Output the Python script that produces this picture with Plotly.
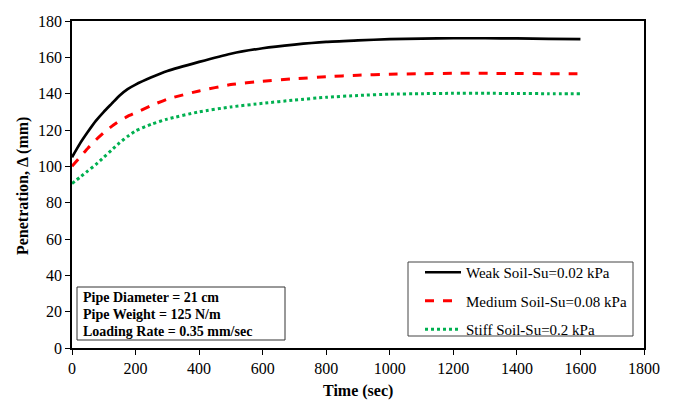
import plotly.graph_objects as go

time_s = [0, 25, 50, 75, 100, 125, 150, 175, 200, 250, 300, 400, 500, 600, 700, 800, 900, 1000, 1100, 1200, 1300, 1400, 1500, 1600]
weak = [105, 112.5, 119, 125, 130, 134.5, 139, 142.5, 145, 149, 152.5, 157.5, 162, 165, 167, 168.5, 169.3, 170, 170.3, 170.5, 170.5, 170.4, 170.2, 170]
medium = [100, 105, 110, 114.5, 118.5, 122, 125, 127.5, 129.5, 133.5, 137, 141.5, 145, 146.8, 148.2, 149.3, 150.2, 150.7, 151, 151.2, 151.2, 151.1, 151, 151]
stiff = [90.5, 94, 97.5, 101, 105, 109, 113, 116.5, 119.5, 123.2, 126, 130, 132.7, 134.7, 136.5, 138, 139, 139.7, 140, 140.2, 140.2, 140.1, 140, 140]

series_names = ["Weak Soil-Su=0.02 kPa", "Medium Soil-Su=0.08 kPa", "Stiff Soil-Su=0.2 kPa"]
x_ticks = list(range(0, 1801, 200))
y_ticks = list(range(0, 181, 20))
info_lines = ["Pipe Diameter = 21 cm", "Pipe Weight = 125 N/m", "Loading Rate = 0.35 mm/sec"]
x_title = "Time (sec)"
y_title = "Penetration, Δ (mm)"

font_family = "Liberation Serif"
L, R, T, B = 72, 31, 21, 55
W, H = 675, 403
pw, ph = W - L - R, H - T - B


def px_x(x):
    return (x - L) / pw


def px_y(y):
    return (H - B - y) / ph


fig = go.Figure()
fig.add_trace(go.Scatter(x=time_s, y=weak, mode="lines", name=series_names[0], legendgroup="a",
                         line=dict(color="black", width=2.7, shape="spline", smoothing=0.5)))
fig.add_trace(go.Scatter(x=time_s, y=medium, mode="lines", name=series_names[1], legendgroup="b",
                         line=dict(color="#ff0000", width=3, dash="dash", shape="spline", smoothing=0.5)))
fig.add_trace(go.Scatter(x=time_s, y=stiff, mode="lines", name=series_names[2], legendgroup="c",
                         line=dict(color="#00b050", width=3, dash="dot", shape="spline", smoothing=0.5)))

fig.update_layout(
    width=W, height=H,
    margin=dict(l=L, r=R, t=T, b=B, autoexpand=False),
    paper_bgcolor="white", plot_bgcolor="white",
    font=dict(family=font_family, size=16, color="black"),
    showlegend=True,
    legend=dict(x=px_x(420), y=px_y(256), xanchor="left", yanchor="top",
                borderwidth=0, bgcolor="rgba(0,0,0,0)",
                font=dict(family=font_family, size=15, color="black"),
                itemwidth=36, tracegroupgap=6),
    xaxis=dict(range=[0, 1800], tickvals=x_ticks, ticktext=[str(v) for v in x_ticks],
               showgrid=False, zeroline=False, showline=True, linecolor="black", linewidth=1.5,
               mirror=True, ticks="outside", ticklen=5, tickcolor="black", automargin=False,
               tickfont=dict(family=font_family, size=16)),
    yaxis=dict(range=[0, 180], tickvals=y_ticks, ticktext=[str(v) for v in y_ticks],
               showgrid=False, zeroline=False, showline=True, linecolor="black", linewidth=1.5,
               mirror=True, ticks="outside", ticklen=5, tickcolor="black", automargin=False,
               tickfont=dict(family=font_family, size=16)),
)

# axis titles
fig.add_annotation(xref="paper", yref="paper", x=0.5, y=px_y(391), xanchor="center", yanchor="middle",
                   text="<b>" + x_title + "</b>", showarrow=False,
                   font=dict(family=font_family, size=16, color="black"))
fig.add_annotation(xref="paper", yref="paper", x=px_x(23), y=px_y(186), xanchor="center", yanchor="middle",
                   text="<b>" + y_title + "</b>", showarrow=False, textangle=-90,
                   font=dict(family=font_family, size=16, color="black"))

# legend frame
fig.add_shape(type="rect", xref="paper", yref="paper",
              x0=px_x(408), x1=px_x(633), y0=px_y(336), y1=px_y(262),
              line=dict(color="#444", width=1), fillcolor="white", layer="above")
# info box frame
fig.add_shape(type="rect", xref="paper", yref="paper",
              x0=px_x(77), x1=px_x(285), y0=px_y(340), y1=px_y(287),
              line=dict(color="#333", width=1), fillcolor="white", layer="above")

for i, s in enumerate(info_lines):
    fig.add_annotation(
        xref="paper", yref="paper", x=px_x(81), y=px_y(297 + 17 * i), xanchor="left", yanchor="middle",
        text="<b>" + s + "</b>", showarrow=False, align="left",
        font=dict(family=font_family, size=14, color="black"),
    )

fig.write_html("out.html")
